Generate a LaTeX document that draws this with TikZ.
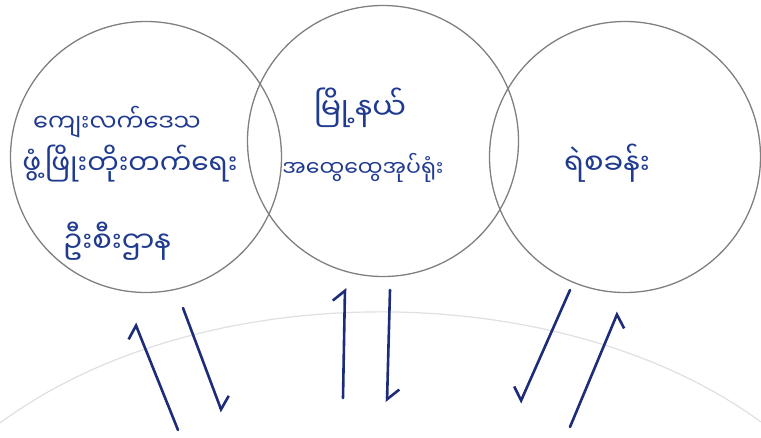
\documentclass[tikz,border=0pt]{standalone}
\usepackage{fontspec}
\newfontfamily\mmfont[Script=Myanmar]{Noto Sans Myanmar UI}
\usetikzlibrary{arrows.meta}
\definecolor{ink}{HTML}{1F3A8F}
\definecolor{arrowink}{HTML}{1C2C78}
\definecolor{ringc}{HTML}{808080}
\definecolor{faintc}{HTML}{E0E0E0}
\begin{document}
\begin{tikzpicture}[x=1pt,y=-1pt,
  ring/.style={circle, draw=ringc, line width=1.3pt, minimum size=271pt, inner sep=0pt},
  hand/.style={text=ink, inner sep=0pt, font=\mmfont\fontsize{#1}{#1}\selectfont},
  hand/.default=26,
  flow/.style={draw=arrowink, line width=2.6pt, line cap=round},
  harpl/.style={flow, -{Straight Barb[left, length=10pt, width=24pt]}},
  harpr/.style={flow, -{Straight Barb[right, length=10pt, width=24pt]}},
  ]
\useasboundingbox (0,0) rectangle (761,437);
\fill[white] (0,0) rectangle (761,437);
% faint background arc
\draw[faintc, line width=1.2pt] (0,423) .. controls (200,275) and (560,275) .. (761,422);
% circles
\node[ring] (c1) at (146,157) {};
\node[ring] (c2) at (383,141) {};
\node[ring] (c3) at (625,157) {};
% texts
\node[hand=24] (t1a) at (117,122) {ကျေးလက်ဒေသ};
\node[hand=28] (t1b) at (130,164) {ဖွံ့ဖြိုးတိုးတက်ရေး};
\node[hand=29] (t1c) at (117,241) {ဦးစီးဌာန};
\node[hand=30] (t2a) at (360,108) {မြို့နယ်};
\node[hand=22] (t2b) at (363,168) {အထွေထွေအုပ်ရုံး};
\node[hand=29] (t3) at (607,163) {ရဲစခန်း};
% arrows
\coordinate (a1s) at (178,430); \coordinate (a1e) at (135,323);
\coordinate (a2s) at (183,308); \coordinate (a2e) at (222,412);
\coordinate (a3s) at (343,398); \coordinate (a3e) at (345,288);
\coordinate (a4s) at (390,290); \coordinate (a4e) at (387,402);
\coordinate (a5s) at (570,290); \coordinate (a5e) at (520,403);
\coordinate (a6s) at (570,427); \coordinate (a6e) at (618,312);
\draw[harpl] (a1s) -- (a1e);
\draw[harpl] (a2s) -- (a2e);
\draw[harpl] (a3s) -- (a3e);
\draw[harpl] (a4s) -- (a4e);
\draw[harpr] (a5s) -- (a5e);
\draw[harpr] (a6s) -- (a6e);
\end{tikzpicture}
\end{document}
